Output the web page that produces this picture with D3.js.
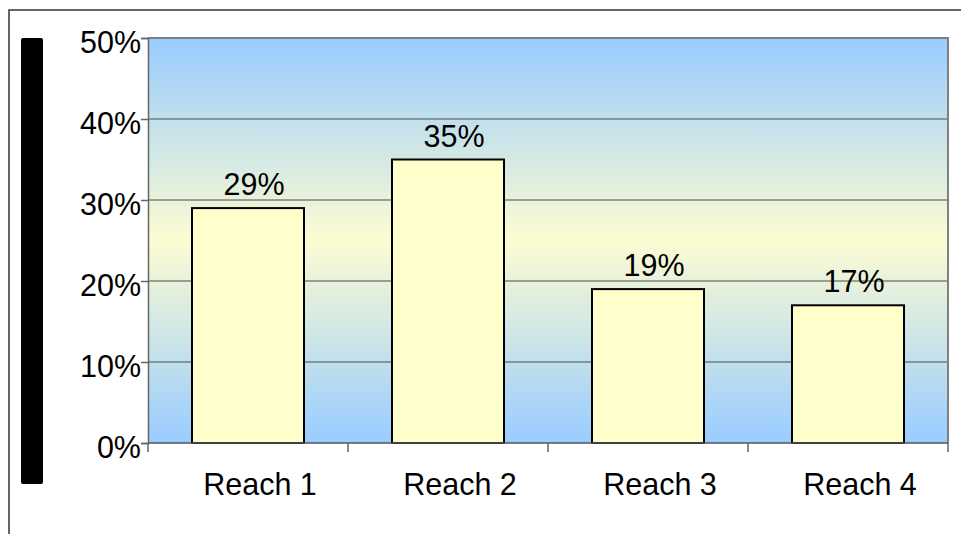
<!DOCTYPE html>
<html><head><meta charset="utf-8">
<script src="https://cdn.jsdelivr.net/npm/d3@7"></script>
<style>html,body{margin:0;padding:0;background:#fff;}svg{display:block;font-family:Arial,"Liberation Sans",sans-serif;}</style>
</head><body>
<script>
const categories = ["Reach 1", "Reach 2", "Reach 3", "Reach 4"];
const values = [29, 35, 19, 17];
const yTicks = [0, 10, 20, 30, 40, 50];

const W = 961, H = 534;
const m = {left: 148, top: 38, right: 948, bottom: 443};
const FS = 30.5;
const svg = d3.select("body").append("svg").attr("width", W).attr("height", H);

const defs = svg.append("defs");
const grad = defs.append("linearGradient").attr("id", "bg").attr("x1", 0).attr("y1", 0).attr("x2", 0).attr("y2", 1);
grad.append("stop").attr("offset", "0%").attr("stop-color", "#99ccff");
grad.append("stop").attr("offset", "50%").attr("stop-color", "#fcfcd2");
grad.append("stop").attr("offset", "100%").attr("stop-color", "#99ccff");

// outer border
svg.append("rect").attr("x", 9).attr("y", 10).attr("width", W + 20).attr("height", H + 20)
  .attr("fill", "none").attr("stroke", "#333").attr("stroke-width", 1.5);

// black bar at left
svg.append("rect").attr("x", 21).attr("y", 38).attr("width", 22).attr("height", 446)
  .attr("rx", 2).attr("fill", "#000");

const x = d3.scaleBand().domain(categories).range([m.left, m.right]).padding(0);
const y = d3.scaleLinear().domain([0, 50]).range([m.bottom, m.top]);

// plot background
svg.append("rect").attr("x", m.left).attr("y", m.top).attr("width", m.right - m.left)
  .attr("height", m.bottom - m.top).attr("fill", "url(#bg)");

// gridlines
svg.append("g").selectAll("line").data(yTicks.filter(d => d > 0 && d < 50)).join("line")
  .attr("x1", m.left).attr("x2", m.right).attr("y1", d => y(d)).attr("y2", d => y(d))
  .attr("stroke", "#4d4d4d").attr("stroke-width", 1);

// frame top/right
svg.append("path").attr("d", `M${m.left},${y(50)}H${m.right}V${m.bottom}`)
  .attr("fill", "none").attr("stroke", "#808080").attr("stroke-width", 2);

// bars
const bw = x.bandwidth() * 0.56;
svg.append("g").selectAll("rect").data(values).join("rect")
  .attr("x", (d, i) => x(categories[i]) + (x.bandwidth() - bw) / 2)
  .attr("y", d => y(d)).attr("width", bw).attr("height", d => y(0) - y(d))
  .attr("fill", "#ffffcc").attr("stroke", "#000").attr("stroke-width", 2);

// bar labels
svg.append("g").selectAll("text").data(values).join("text")
  .attr("x", (d, i) => x(categories[i]) + x.bandwidth() / 2 + 6)
  .attr("y", d => y(d) - 13).attr("text-anchor", "middle")
  .attr("font-size", FS).attr("fill", "#000").text(d => d + "%");

// y axis
const yAxis = d3.axisLeft(y).tickValues(yTicks).tickFormat(d => d + "%").tickSize(7).tickPadding(0);
const gy = svg.append("g").attr("transform", `translate(${m.left},0)`).call(yAxis);
gy.select(".domain").attr("stroke", "#666").attr("stroke-width", 1.5);
gy.selectAll(".tick line").attr("stroke", "#666").attr("stroke-width", 1.5);
gy.selectAll(".tick text").attr("font-size", FS).attr("fill", "#000").attr("dy", "0.47em")
  .attr("font-family", "Arial, 'Liberation Sans', sans-serif");

// x axis
const boundaries = categories.map(c => x(c)).concat([m.right]);
svg.append("line").attr("x1", m.left).attr("x2", m.right).attr("y1", m.bottom).attr("y2", m.bottom)
  .attr("stroke", "#555").attr("stroke-width", 1.5);
svg.append("g").selectAll("line").data(boundaries).join("line")
  .attr("x1", d => d).attr("x2", d => d).attr("y1", m.bottom).attr("y2", m.bottom + 9)
  .attr("stroke", "#666").attr("stroke-width", 1.5);
svg.append("g").selectAll("text").data(categories).join("text")
  .attr("x", d => x(d) + x.bandwidth() / 2 + 12).attr("y", m.bottom + 52)
  .attr("text-anchor", "middle").attr("font-size", FS).attr("fill", "#000").text(d => d);
</script>
</body></html>
